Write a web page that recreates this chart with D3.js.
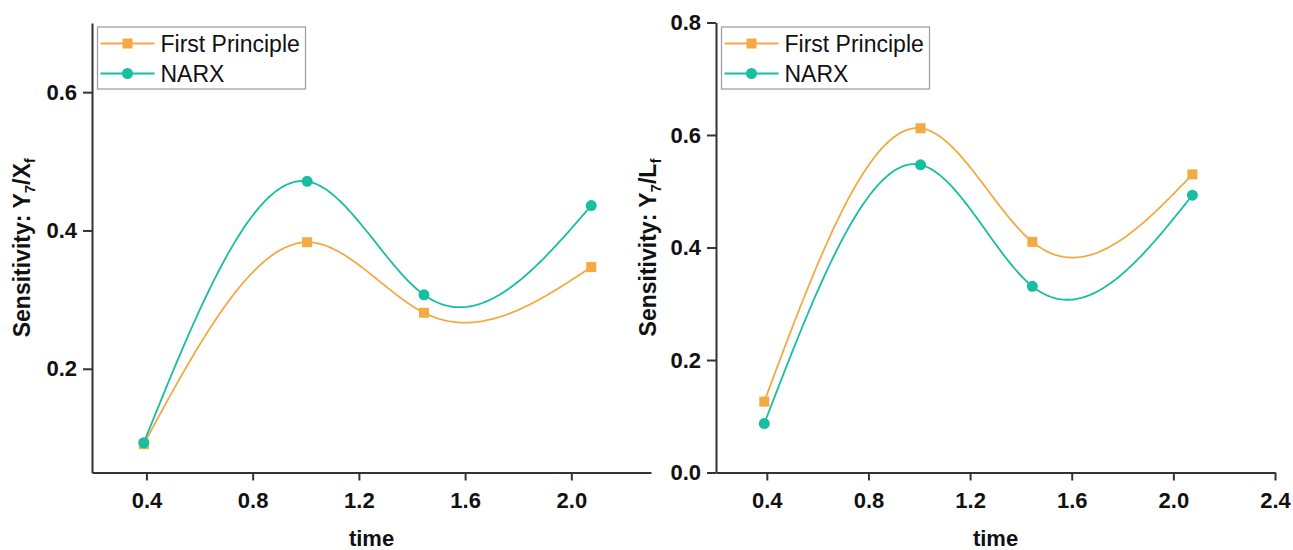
<!DOCTYPE html>
<html>
<head>
<meta charset="utf-8">
<script src="https://cdn.jsdelivr.net/npm/d3@7"></script>
<style>
  html, body { margin: 0; padding: 0; background: #fff; }
  svg { display: block; }
  text { font-family: "Liberation Sans", Arial, sans-serif; }
</style>
</head>
<body>
<svg id="chart" width="1293" height="550"></svg>
<script>
// Sample times (shared by both panels)
const times = [0.39, 1.005, 1.445, 2.075];

// Panel A: sensitivity of Y7 to Xf
const firstPrincipleXf = [0.091, 0.383, 0.281, 0.347];
const narxXf = [0.093, 0.471, 0.307, 0.436];

// Panel B: sensitivity of Y7 to Lf
const firstPrincipleLf = [0.126, 0.612, 0.410, 0.530];
const narxLf = [0.087, 0.547, 0.331, 0.493];

// Tick values
const xTicksA = [0.4, 0.8, 1.2, 1.6, 2.0];
const yTicksA = [0.2, 0.4, 0.6];
const xTicksB = [0.4, 0.8, 1.2, 1.6, 2.0, 2.4];
const yTicksB = [0.0, 0.2, 0.4, 0.6, 0.8];

const seriesNames = ["First Principle", "NARX"];
const ORANGE = "#F3AA45";
const TEAL = "#17BE9F";
const AXIS = "#333";

const svg = d3.select("#chart");

// Natural cubic spline y(x) through the given knots
function naturalSpline(xs, ys) {
  const n = xs.length, h = [], alpha = [], l = [1], mu = [0], z = [0];
  const c = new Array(n).fill(0), b = [], d = [];
  for (let i = 0; i < n - 1; i++) h.push(xs[i + 1] - xs[i]);
  for (let i = 1; i < n - 1; i++)
    alpha[i] = 3 / h[i] * (ys[i + 1] - ys[i]) - 3 / h[i - 1] * (ys[i] - ys[i - 1]);
  for (let i = 1; i < n - 1; i++) {
    l[i] = 2 * (xs[i + 1] - xs[i - 1]) - h[i - 1] * mu[i - 1];
    mu[i] = h[i] / l[i];
    z[i] = (alpha[i] - h[i - 1] * z[i - 1]) / l[i];
  }
  for (let j = n - 2; j >= 0; j--) {
    c[j] = j === 0 ? 0 : z[j] - mu[j] * c[j + 1];
    b[j] = (ys[j + 1] - ys[j]) / h[j] - h[j] * (c[j + 1] + 2 * c[j]) / 3;
    d[j] = (c[j + 1] - c[j]) / (3 * h[j]);
  }
  return t => {
    const j = Math.min(n - 2, Math.max(0, d3.bisectRight(xs, t) - 1));
    const u = t - xs[j];
    return ys[j] + b[j] * u + c[j] * u * u + d[j] * u * u * u;
  };
}

function drawPanel(opt) {
  const x = d3.scaleLinear().domain(opt.xDomain).range([opt.left, opt.right]);
  const y = d3.scaleLinear().domain(opt.yDomain).range([opt.bottom, opt.top]);
  const g = svg.append("g");

  const xa = g.append("g")
    .attr("transform", `translate(0,${opt.bottom})`)
    .call(d3.axisBottom(x).tickValues(opt.xTicks).tickFormat(d3.format(".1f"))
      .tickSize(8).tickSizeOuter(0).tickPadding(12));
  const ya = g.append("g")
    .attr("transform", `translate(${opt.left},0)`)
    .call(d3.axisLeft(y).tickValues(opt.yTicks).tickFormat(d3.format(".1f"))
      .tickSize(9).tickSizeOuter(0).tickPadding(6));
  [xa, ya].forEach(a => {
    a.select(".domain").attr("stroke", AXIS).attr("stroke-width", 2);
    a.selectAll(".tick line").attr("stroke", AXIS).attr("stroke-width", 2);
    a.selectAll(".tick text").attr("fill", "#111")
      .style("font-size", "22px").style("font-weight", "bold")
      .style("font-family", "'Liberation Sans', Arial, sans-serif");
  });

  g.append("text")
    .attr("x", (opt.left + opt.right) / 2).attr("y", 546)
    .attr("text-anchor", "middle")
    .style("font-size", "22px").style("font-weight", "bold").attr("fill", "#111")
    .text("time");

  const yl = g.append("text")
    .attr("transform", `translate(${opt.yLabelX},${(opt.top + opt.bottom) / 2}) rotate(-90)`)
    .attr("text-anchor", "middle")
    .style("font-size", "23px").style("font-weight", "bold").attr("fill", "#111");
  yl.append("tspan").text("Sensitivity: Y");
  yl.append("tspan").attr("dy", 5).style("font-size", "15px").text("7");
  yl.append("tspan").attr("dy", -5).text("/" + opt.denominator);
  yl.append("tspan").attr("dy", 5).style("font-size", "15px").text("f");

  const series = [
    { name: seriesNames[0], values: opt.fp, color: ORANGE, shape: "square" },
    { name: seriesNames[1], values: opt.narx, color: TEAL, shape: "circle" }
  ];

  const line = d3.line().x(d => x(d[0])).y(d => y(d[1]));
  series.forEach(s => {
    const f = naturalSpline(times, s.values);
    const xs = d3.range(0, 201).map(k => times[0] + (times[times.length - 1] - times[0]) * k / 200);
    g.append("path").datum(xs.map(t => [t, f(t)]))
      .attr("d", line).attr("fill", "none")
      .attr("stroke", s.color).attr("stroke-width", 1.8);
  });
  series.forEach(s => {
    const pts = g.append("g").selectAll("g").data(s.values).join("g")
      .attr("transform", (d, i) => `translate(${x(times[i])},${y(d)})`);
    drawMarker(pts, s);
  });

  // legend
  const lg = g.append("g").attr("transform", `translate(${opt.left + 5.5},27)`);
  lg.append("rect").attr("width", 208).attr("height", 62)
    .attr("fill", "#fff").attr("stroke", "#9a9a9a").attr("stroke-width", 1.2);
  series.forEach((s, i) => {
    const row = lg.append("g").attr("transform", `translate(0,${16.5 + i * 30})`);
    row.append("line").attr("x1", 3).attr("x2", 57).attr("stroke", s.color).attr("stroke-width", 1.8);
    const m = row.append("g").attr("transform", "translate(30,0)");
    drawMarker(m, s);
    row.append("text").attr("x", 63).attr("y", 8.5)
      .style("font-size", "23px").attr("fill", "#111").text(s.name);
  });
}

function drawMarker(sel, s) {
  if (s.shape === "square") {
    sel.append("rect").attr("x", -5).attr("y", -5).attr("width", 10).attr("height", 10)
      .attr("fill", s.color);
  } else {
    sel.append("circle").attr("r", 5.5).attr("fill", s.color);
  }
}

drawPanel({
  left: 92, right: 651, top: 23, bottom: 472.5,
  xDomain: [0.195, 2.3], yDomain: [0.05, 0.7],
  xTicks: xTicksA, yTicks: yTicksA,
  fp: firstPrincipleXf, narx: narxXf,
  denominator: "X", yLabelX: 30
});

drawPanel({
  left: 716, right: 1275, top: 22.5, bottom: 472.5,
  xDomain: [0.2, 2.4], yDomain: [0, 0.8],
  xTicks: xTicksB, yTicks: yTicksB,
  fp: firstPrincipleLf, narx: narxLf,
  denominator: "L", yLabelX: 656
});
</script>
</body>
</html>
